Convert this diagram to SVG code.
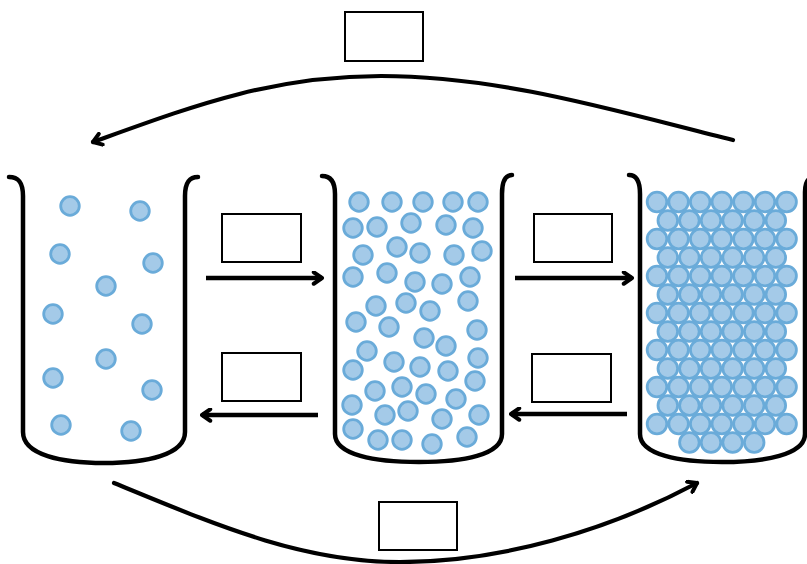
<svg xmlns="http://www.w3.org/2000/svg" width="807" height="564" viewBox="0 0 807 564">
  <style>
    .beaker { fill: none; stroke: #000; stroke-width: 4.5; stroke-linecap: round; stroke-linejoin: round; }
    .p { fill: #a4cae8; stroke: #6aabd9; stroke-width: 2.8; }
    .q { fill: #a4cae8; stroke: #6aabd9; stroke-width: 2.8; }
    .box { fill: #fff; stroke: #000; stroke-width: 2; }
    .conn { fill: none; stroke: #000; stroke-width: 4.5; marker-end: url(#head); }
    .arc { fill: none; stroke: #000; stroke-width: 4.2; stroke-linecap: round; marker-end: url(#head); }
  </style>
  <defs>
    <marker id="head" viewBox="0 0 12 12" refX="10" refY="6" markerUnits="userSpaceOnUse" markerWidth="15" markerHeight="15" orient="auto">
      <path d="M3.4,1.4 L10,6 L3.4,10.6" fill="none" stroke="#000" stroke-width="3.2" stroke-linecap="round" stroke-linejoin="round"/>
    </marker>
  </defs>
  <rect width="807" height="564" fill="#fff"/>

  <!-- gas: particles far apart -->
  <g id="beaker-gas">
    <g>
      <circle class="p" cx="70" cy="206" r="9.3"/>
      <circle class="p" cx="140" cy="211" r="9.3"/>
      <circle class="p" cx="60" cy="254" r="9.3"/>
      <circle class="p" cx="153" cy="263" r="9.3"/>
      <circle class="p" cx="106" cy="286" r="9.3"/>
      <circle class="p" cx="53" cy="314" r="9.3"/>
      <circle class="p" cx="142" cy="324" r="9.3"/>
      <circle class="p" cx="106" cy="359" r="9.3"/>
      <circle class="p" cx="53" cy="378" r="9.3"/>
      <circle class="p" cx="152" cy="390" r="9.3"/>
      <circle class="p" cx="61" cy="425" r="9.3"/>
      <circle class="p" cx="131" cy="431" r="9.3"/>
    </g>
    <path class="beaker" d="M9,177 C19,177 23,183 23,196 L23,432 C23,455 62,463 104,463 C146,463 185,455 185,432 L185,196 C185,183 189,177 198,177"/>
  </g>

  <!-- liquid: particles close, disordered -->
  <g id="beaker-liquid">
    <g>
      <circle class="p" cx="359" cy="202" r="9.3"/>
      <circle class="p" cx="392" cy="202" r="9.3"/>
      <circle class="p" cx="423" cy="202" r="9.3"/>
      <circle class="p" cx="453" cy="202" r="9.3"/>
      <circle class="p" cx="478" cy="202" r="9.3"/>
      <circle class="p" cx="353" cy="228" r="9.3"/>
      <circle class="p" cx="377" cy="227" r="9.3"/>
      <circle class="p" cx="411" cy="223" r="9.3"/>
      <circle class="p" cx="446" cy="225" r="9.3"/>
      <circle class="p" cx="473" cy="228" r="9.3"/>
      <circle class="p" cx="363" cy="255" r="9.3"/>
      <circle class="p" cx="397" cy="247" r="9.3"/>
      <circle class="p" cx="420" cy="253" r="9.3"/>
      <circle class="p" cx="454" cy="255" r="9.3"/>
      <circle class="p" cx="482" cy="251" r="9.3"/>
      <circle class="p" cx="353" cy="277" r="9.3"/>
      <circle class="p" cx="387" cy="273" r="9.3"/>
      <circle class="p" cx="415" cy="282" r="9.3"/>
      <circle class="p" cx="442" cy="284" r="9.3"/>
      <circle class="p" cx="470" cy="277" r="9.3"/>
      <circle class="p" cx="376" cy="306" r="9.3"/>
      <circle class="p" cx="406" cy="303" r="9.3"/>
      <circle class="p" cx="430" cy="311" r="9.3"/>
      <circle class="p" cx="468" cy="301" r="9.3"/>
      <circle class="p" cx="356" cy="322" r="9.3"/>
      <circle class="p" cx="389" cy="327" r="9.3"/>
      <circle class="p" cx="424" cy="338" r="9.3"/>
      <circle class="p" cx="446" cy="346" r="9.3"/>
      <circle class="p" cx="477" cy="330" r="9.3"/>
      <circle class="p" cx="367" cy="351" r="9.3"/>
      <circle class="p" cx="394" cy="362" r="9.3"/>
      <circle class="p" cx="420" cy="367" r="9.3"/>
      <circle class="p" cx="448" cy="371" r="9.3"/>
      <circle class="p" cx="478" cy="358" r="9.3"/>
      <circle class="p" cx="353" cy="370" r="9.3"/>
      <circle class="p" cx="375" cy="391" r="9.3"/>
      <circle class="p" cx="402" cy="387" r="9.3"/>
      <circle class="p" cx="426" cy="394" r="9.3"/>
      <circle class="p" cx="475" cy="381" r="9.3"/>
      <circle class="p" cx="456" cy="399" r="9.3"/>
      <circle class="p" cx="352" cy="405" r="9.3"/>
      <circle class="p" cx="385" cy="415" r="9.3"/>
      <circle class="p" cx="408" cy="411" r="9.3"/>
      <circle class="p" cx="442" cy="419" r="9.3"/>
      <circle class="p" cx="479" cy="415" r="9.3"/>
      <circle class="p" cx="353" cy="429" r="9.3"/>
      <circle class="p" cx="378" cy="440" r="9.3"/>
      <circle class="p" cx="402" cy="440" r="9.3"/>
      <circle class="p" cx="432" cy="444" r="9.3"/>
      <circle class="p" cx="467" cy="437" r="9.3"/>
    </g>
    <path class="beaker" d="M322,176 C331,176 335,182 335,194 L335,434 C335,455 375,462 419,462 C463,462 502,455 502,434 L502,194 C502,182 505,175 512,175"/>
  </g>

  <!-- solid: particles packed in a regular lattice -->
  <g id="beaker-solid">
    <g>
      <circle class="q" cx="657" cy="202" r="9.8"/><circle class="q" cx="678.6" cy="202" r="9.8"/><circle class="q" cx="700.2" cy="202" r="9.8"/><circle class="q" cx="721.8" cy="202" r="9.8"/><circle class="q" cx="743.4" cy="202" r="9.8"/><circle class="q" cx="765" cy="202" r="9.8"/><circle class="q" cx="786.6" cy="202" r="9.8"/>
      <circle class="q" cx="667.8" cy="220.5" r="9.8"/><circle class="q" cx="689.4" cy="220.5" r="9.8"/><circle class="q" cx="711" cy="220.5" r="9.8"/><circle class="q" cx="732.6" cy="220.5" r="9.8"/><circle class="q" cx="754.2" cy="220.5" r="9.8"/><circle class="q" cx="775.8" cy="220.5" r="9.8"/>
      <circle class="q" cx="657" cy="239" r="9.8"/><circle class="q" cx="678.6" cy="239" r="9.8"/><circle class="q" cx="700.2" cy="239" r="9.8"/><circle class="q" cx="721.8" cy="239" r="9.8"/><circle class="q" cx="743.4" cy="239" r="9.8"/><circle class="q" cx="765" cy="239" r="9.8"/><circle class="q" cx="786.6" cy="239" r="9.8"/>
      <circle class="q" cx="667.8" cy="257.5" r="9.8"/><circle class="q" cx="689.4" cy="257.5" r="9.8"/><circle class="q" cx="711" cy="257.5" r="9.8"/><circle class="q" cx="732.6" cy="257.5" r="9.8"/><circle class="q" cx="754.2" cy="257.5" r="9.8"/><circle class="q" cx="775.8" cy="257.5" r="9.8"/>
      <circle class="q" cx="657" cy="276" r="9.8"/><circle class="q" cx="678.6" cy="276" r="9.8"/><circle class="q" cx="700.2" cy="276" r="9.8"/><circle class="q" cx="721.8" cy="276" r="9.8"/><circle class="q" cx="743.4" cy="276" r="9.8"/><circle class="q" cx="765" cy="276" r="9.8"/><circle class="q" cx="786.6" cy="276" r="9.8"/>
      <circle class="q" cx="667.8" cy="294.5" r="9.8"/><circle class="q" cx="689.4" cy="294.5" r="9.8"/><circle class="q" cx="711" cy="294.5" r="9.8"/><circle class="q" cx="732.6" cy="294.5" r="9.8"/><circle class="q" cx="754.2" cy="294.5" r="9.8"/><circle class="q" cx="775.8" cy="294.5" r="9.8"/>
      <circle class="q" cx="657" cy="313" r="9.8"/><circle class="q" cx="678.6" cy="313" r="9.8"/><circle class="q" cx="700.2" cy="313" r="9.8"/><circle class="q" cx="721.8" cy="313" r="9.8"/><circle class="q" cx="743.4" cy="313" r="9.8"/><circle class="q" cx="765" cy="313" r="9.8"/><circle class="q" cx="786.6" cy="313" r="9.8"/>
      <circle class="q" cx="667.8" cy="331.5" r="9.8"/><circle class="q" cx="689.4" cy="331.5" r="9.8"/><circle class="q" cx="711" cy="331.5" r="9.8"/><circle class="q" cx="732.6" cy="331.5" r="9.8"/><circle class="q" cx="754.2" cy="331.5" r="9.8"/><circle class="q" cx="775.8" cy="331.5" r="9.8"/>
      <circle class="q" cx="657" cy="350" r="9.8"/><circle class="q" cx="678.6" cy="350" r="9.8"/><circle class="q" cx="700.2" cy="350" r="9.8"/><circle class="q" cx="721.8" cy="350" r="9.8"/><circle class="q" cx="743.4" cy="350" r="9.8"/><circle class="q" cx="765" cy="350" r="9.8"/><circle class="q" cx="786.6" cy="350" r="9.8"/>
      <circle class="q" cx="667.8" cy="368.5" r="9.8"/><circle class="q" cx="689.4" cy="368.5" r="9.8"/><circle class="q" cx="711" cy="368.5" r="9.8"/><circle class="q" cx="732.6" cy="368.5" r="9.8"/><circle class="q" cx="754.2" cy="368.5" r="9.8"/><circle class="q" cx="775.8" cy="368.5" r="9.8"/>
      <circle class="q" cx="657" cy="387" r="9.8"/><circle class="q" cx="678.6" cy="387" r="9.8"/><circle class="q" cx="700.2" cy="387" r="9.8"/><circle class="q" cx="721.8" cy="387" r="9.8"/><circle class="q" cx="743.4" cy="387" r="9.8"/><circle class="q" cx="765" cy="387" r="9.8"/><circle class="q" cx="786.6" cy="387" r="9.8"/>
      <circle class="q" cx="667.8" cy="405.5" r="9.8"/><circle class="q" cx="689.4" cy="405.5" r="9.8"/><circle class="q" cx="711" cy="405.5" r="9.8"/><circle class="q" cx="732.6" cy="405.5" r="9.8"/><circle class="q" cx="754.2" cy="405.5" r="9.8"/><circle class="q" cx="775.8" cy="405.5" r="9.8"/>
      <circle class="q" cx="657" cy="424" r="9.8"/><circle class="q" cx="678.6" cy="424" r="9.8"/><circle class="q" cx="700.2" cy="424" r="9.8"/><circle class="q" cx="721.8" cy="424" r="9.8"/><circle class="q" cx="743.4" cy="424" r="9.8"/><circle class="q" cx="765" cy="424" r="9.8"/><circle class="q" cx="786.6" cy="424" r="9.8"/>
      <circle class="q" cx="689.4" cy="442.5" r="9.8"/><circle class="q" cx="711" cy="442.5" r="9.8"/><circle class="q" cx="732.6" cy="442.5" r="9.8"/><circle class="q" cx="754.2" cy="442.5" r="9.8"/>
    </g>
    <path class="beaker" d="M629,175 C637,175 640,182 640,194 L640,434 C640,455 680,462 722,462 C764,462 805,455 805,434 L805,192 C805,182 808,177 815,177"/>
  </g>

  <!-- empty label boxes -->
  <g id="label-top"><rect class="box" x="345" y="12" width="78" height="49"/></g>
  <g id="label-gas-liquid"><rect class="box" x="222" y="214" width="79" height="48"/></g>
  <g id="label-liquid-gas"><rect class="box" x="222" y="353" width="79" height="48"/></g>
  <g id="label-liquid-solid"><rect class="box" x="534" y="214" width="78" height="48"/></g>
  <g id="label-solid-liquid"><rect class="box" x="532" y="354" width="79" height="48"/></g>
  <g id="label-bottom"><rect class="box" x="379" y="502" width="78" height="48"/></g>

  <g id="connectors">
    <line class="conn" x1="206" y1="278" x2="322" y2="278"/>
    <line class="conn" x1="318" y1="415" x2="202" y2="415"/>
    <line class="conn" x1="515" y1="278" x2="632" y2="278"/>
    <line class="conn" x1="627" y1="414" x2="511" y2="414"/>
    <path class="arc" d="M733,140 C616,111 501,76 381,76 C271,76 193,106 93,142"/>
    <path class="arc" d="M114,483 C214,524 300,562 400,562 C500,562 607,531 697,483"/>
  </g>
</svg>
